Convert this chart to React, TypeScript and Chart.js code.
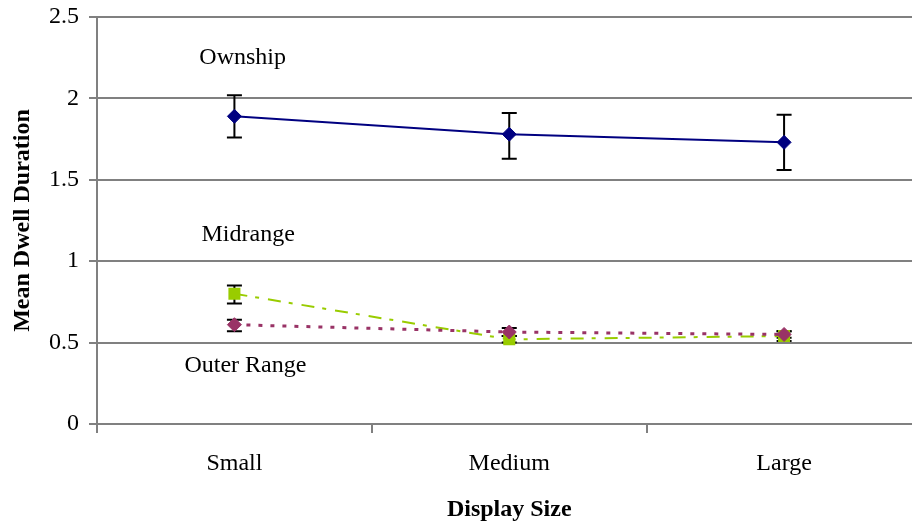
import React, { useEffect, useRef } from 'react';
import { Chart, registerables } from 'chart.js';

Chart.register(...registerables);

const categories = ['Small', 'Medium', 'Large'];
const ownship = [1.89, 1.78, 1.73];
const ownshipLow = [1.76, 1.63, 1.56];
const ownshipHigh = [2.02, 1.91, 1.9];
const midrange = [0.8, 0.52, 0.54];
const midrangeLow = [0.74, 0.5, 0.51];
const midrangeHigh = [0.85, 0.54, 0.57];
const outerRange = [0.61, 0.565, 0.55];
const outerRangeLow = [0.57, 0.54, 0.53];
const outerRangeHigh = [0.64, 0.59, 0.57];
const seriesNames = ['Ownship', 'Midrange', 'Outer Range'];
const labelX = [0.03, 0.05, 0.04];
const labelY = [2.25, 1.16, 0.36];

const FONT = "'Liberation Serif', 'Times New Roman', serif";
const GRID = '#808080';

const errorBars = [
  { low: ownshipLow, high: ownshipHigh },
  { low: outerRangeLow, high: outerRangeHigh },
  { low: midrangeLow, high: midrangeHigh },
];

const errorBarPlugin = {
  id: 'errorBars',
  beforeDatasetsDraw(chart: any) {
    const { ctx, scales } = chart;
    const x = scales.x;
    const y = scales.y;
    ctx.save();
    ctx.strokeStyle = '#000000';
    ctx.lineWidth = 2;
    errorBars.forEach((eb) => {
      eb.low.forEach((lo: number, i: number) => {
        const px = x.getPixelForValue(i);
        const yl = y.getPixelForValue(lo);
        const yh = y.getPixelForValue(eb.high[i]);
        ctx.beginPath();
        ctx.moveTo(px, yl);
        ctx.lineTo(px, yh);
        ctx.moveTo(px - 7.5, yl);
        ctx.lineTo(px + 7.5, yl);
        ctx.moveTo(px - 7.5, yh);
        ctx.lineTo(px + 7.5, yh);
        ctx.stroke();
      });
    });
    ctx.restore();
  },
};

const labelPlugin = {
  id: 'seriesLabels',
  afterDatasetsDraw(chart: any) {
    const { ctx, scales } = chart;
    ctx.save();
    ctx.font = `24px ${FONT}`;
    ctx.fillStyle = '#000000';
    ctx.textAlign = 'center';
    ctx.textBaseline = 'middle';
    seriesNames.forEach((name, i) => {
      ctx.fillText(name, scales.x.getPixelForValue(labelX[i]), scales.y.getPixelForValue(labelY[i]));
    });
    ctx.restore();
  },
};

export default function App() {
  const ref = useRef<HTMLCanvasElement | null>(null);
  useEffect(() => {
    if (!ref.current) return;
    const chart = new Chart(ref.current, {
      type: 'line',
      data: {
        labels: categories,
        datasets: [
          {
            label: 'Ownship',
            data: ownship,
            order: 0,
            borderColor: '#000080',
            backgroundColor: '#000080',
            borderWidth: 2,
            pointStyle: 'rectRot',
            pointRadius: 7,
            pointBorderWidth: 1,
            pointBackgroundColor: '#000080',
            pointBorderColor: '#000080',
            tension: 0,
          },
          {
            label: 'Outer Range',
            data: outerRange,
            order: 1,
            borderColor: '#993366',
            backgroundColor: '#993366',
            borderWidth: 3,
            borderDash: [4, 8],
            pointStyle: 'rectRot',
            pointRadius: 7,
            pointBorderWidth: 1,
            pointBackgroundColor: '#993366',
            pointBorderColor: '#993366',
            tension: 0,
          },
          {
            label: 'Midrange',
            data: midrange,
            order: 2,
            borderColor: '#99CC00',
            backgroundColor: '#99CC00',
            borderWidth: 2,
            borderDash: [13, 8, 4, 9],
            pointStyle: 'rect',
            pointRadius: 8.5,
            pointBorderWidth: 0,
            pointBackgroundColor: '#99CC00',
            pointBorderColor: '#99CC00',
            tension: 0,
          },
        ],
      },
      options: {
        animation: false,
        responsive: false,
        devicePixelRatio: 1,
        layout: { padding: { top: 17, left: 0, right: 0, bottom: 0 } },
        plugins: {
          legend: { display: false },
          tooltip: { enabled: false },
        },
        scales: {
          x: {
            type: 'category',
            offset: true,
            grid: {
              offset: true,
              drawOnChartArea: false,
              drawTicks: true,
              tickLength: 9,
              color: GRID,
              lineWidth: 2,
            },
            border: { color: GRID, width: 2 },
            ticks: {
              font: { family: FONT, size: 24 },
              color: '#000000',
              padding: 16,
              maxRotation: 0,
            },
            title: {
              display: true,
              text: 'Display Size',
              font: { family: FONT, size: 24, weight: 'bold' },
              color: '#000000',
              padding: { top: 0, bottom: 3 },
            },
            afterFit: (s: any) => {
              s.height = 103;
              s.paddingLeft = 0;
              s.paddingRight = 0;
            },
          },
          y: {
            min: 0,
            max: 2.5,
            ticks: {
              stepSize: 0.5,
              font: { family: FONT, size: 24 },
              color: '#000000',
              padding: 10,
              callback: (v: any) => String(v),
            },
            grid: {
              color: GRID,
              lineWidth: 2,
              tickLength: 8,
            },
            border: { color: GRID, width: 2 },
            title: {
              display: true,
              text: 'Mean Dwell Duration',
              font: { family: FONT, size: 24, weight: 'bold' },
              color: '#000000',
              padding: { top: 8, bottom: 0 },
            },
            afterFit: (s: any) => {
              s.width = 97;
              s.paddingTop = 0;
              s.paddingBottom = 0;
            },
          },
        },
      },
      plugins: [errorBarPlugin, labelPlugin],
    } as any);
    return () => chart.destroy();
  }, []);

  return (
    <div
      style={{
        position: 'fixed',
        left: 0,
        top: 0,
        width: 912,
        height: 527,
        overflow: 'hidden',
        background: '#ffffff',
      }}
    >
      <canvas ref={ref} width={930} height={527} style={{ display: 'block', width: 930, height: 527 }} />
    </div>
  );
}
